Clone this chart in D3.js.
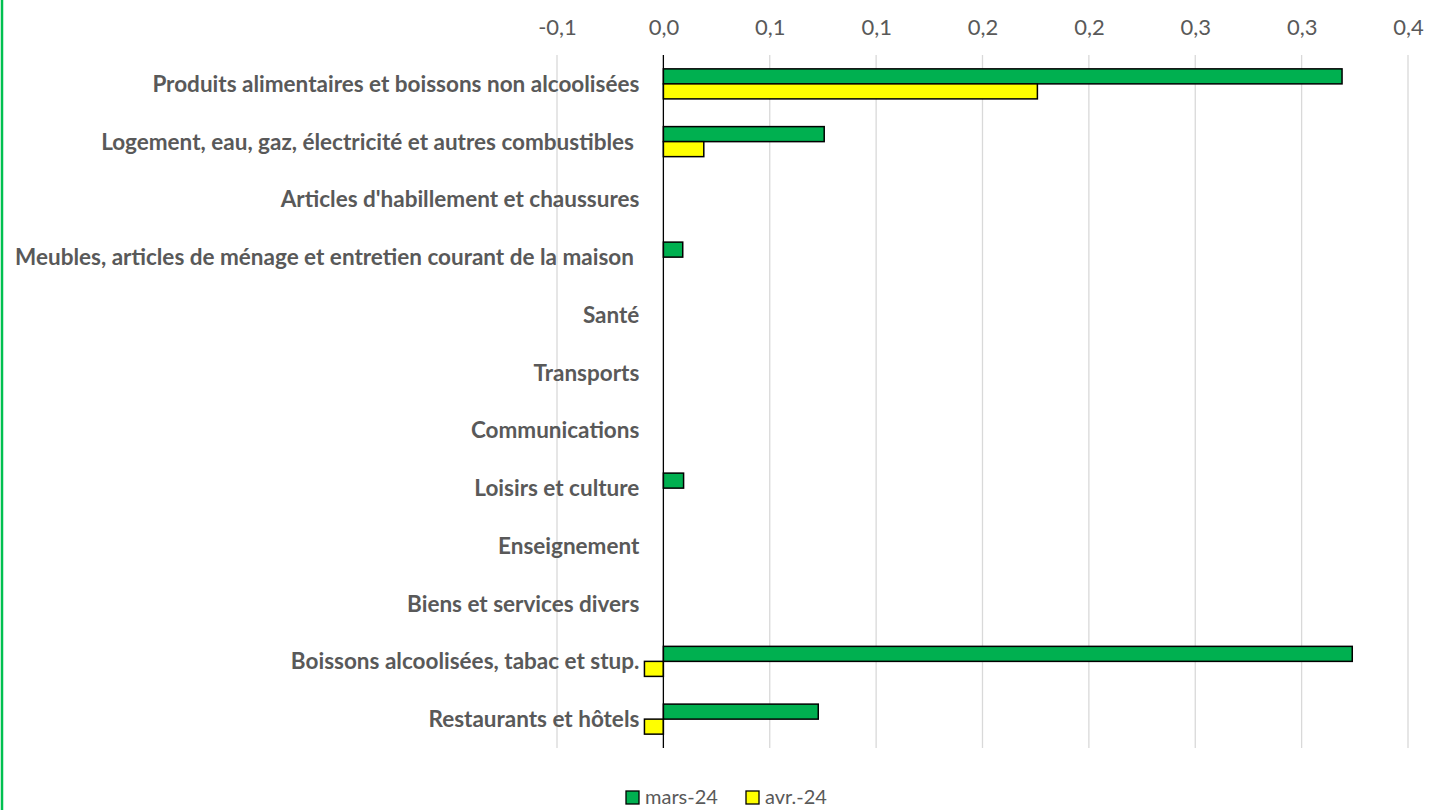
<!DOCTYPE html>
<html>
<head>
<meta charset="utf-8">
<script src="https://cdn.jsdelivr.net/npm/d3@7"></script>
<style>
  body { margin: 0; background: #fff; }
  svg { display: block; }
  svg text { font-family: Lato, "Open Sans", sans-serif; }
</style>
</head>
<body>
<div id="chart"></div>
<script>
// Data
var categories = [
  "Produits alimentaires et boissons non alcoolisées",
  "Logement, eau, gaz, électricité et autres combustibles ",
  "Articles d'habillement et chaussures",
  "Meubles, articles de ménage et entretien courant de la maison ",
  "Santé",
  "Transports",
  "Communications",
  "Loisirs et culture",
  "Enseignement",
  "Biens et services divers",
  "Boissons alcoolisées, tabac et stup.",
  "Restaurants et hôtels"
];
var seriesNames = ["mars-24", "avr.-24"];
var mars24 = [0.319, 0.0756, 0, 0.0091, 0, 0, 0, 0.0095, 0, 0, 0.3238, 0.0728];
var avr24  = [0.1758, 0.019, 0, 0, 0, 0, 0, 0, 0, 0, -0.0089, -0.0089];
var tickValues = [-0.05, 0, 0.05, 0.1, 0.15, 0.2, 0.25, 0.3, 0.35];
var tickLabels = ["-0,1", "0,0", "0,1", "0,1", "0,2", "0,2", "0,3", "0,3", "0,4"];
var colors = ["#00B050", "#FFFF00"];

var W = 1440, H = 810;
var margin = {top: 55, right: 32, bottom: 62, left: 557};

var svg = d3.select("#chart").append("svg")
    .attr("width", W)
    .attr("height", H);

// green frame edge on the left
svg.append("line")
    .attr("x1", 2).attr("x2", 2)
    .attr("y1", 0).attr("y2", H)
    .attr("stroke", "#00C050")
    .attr("stroke-width", 2.5);

var x = d3.scaleLinear()
    .domain([-0.05, 0.35])
    .range([margin.left, W - margin.right]);

var y = d3.scaleBand()
    .domain(categories)
    .range([margin.top, H - margin.bottom])
    .paddingInner(0.48)
    .paddingOuter(0.24);

var ySub = d3.scaleBand()
    .domain(seriesNames)
    .range([0, y.bandwidth()]);

// gridlines
svg.append("g")
    .selectAll("line")
    .data(tickValues.filter(function(d) { return d !== 0; }))
    .enter().append("line")
    .attr("x1", function(d) { return x(d); })
    .attr("x2", function(d) { return x(d); })
    .attr("y1", margin.top)
    .attr("y2", H - margin.bottom)
    .attr("stroke", "#d9d9d9")
    .attr("stroke-width", 1.3);

// top axis labels
var xAxis = svg.append("g")
    .attr("transform", "translate(0," + 35 + ")")
    .call(d3.axisTop(x)
      .tickValues(tickValues)
      .tickFormat(function(d, i) { return tickLabels[i]; })
      .tickSize(0)
      .tickPadding(0));
xAxis.select(".domain").remove();
xAxis.selectAll("text")
    .attr("fill", "#595959")
    .style("font-family", "Lato, 'Open Sans', sans-serif")
    .style("font-size", "22px");

var rows = categories.map(function(c, i) {
  return {cat: c, values: [mars24[i], avr24[i]]};
});

var groups = svg.append("g")
    .selectAll("g")
    .data(rows)
    .enter().append("g")
    .attr("transform", function(d) { return "translate(0," + y(d.cat) + ")"; });

groups.selectAll("rect")
    .data(function(d) {
      return d.values
        .map(function(v, j) { return {name: seriesNames[j], value: v, color: colors[j]}; })
        .filter(function(e) { return e.value !== 0; });
    })
    .enter().append("rect")
    .attr("x", function(d) { return x(Math.min(0, d.value)); })
    .attr("width", function(d) { return Math.abs(x(d.value) - x(0)); })
    .attr("y", function(d) { return ySub(d.name); })
    .attr("height", ySub.bandwidth())
    .attr("fill", function(d) { return d.color; })
    .attr("stroke", "#000")
    .attr("stroke-width", 1.5);

// zero axis line
svg.append("line")
    .attr("x1", x(0)).attr("x2", x(0))
    .attr("y1", margin.top).attr("y2", H - margin.bottom)
    .attr("stroke", "#000")
    .attr("stroke-width", 1.3);

// category labels
svg.append("g")
    .selectAll("text")
    .data(categories)
    .enter().append("text")
    .attr("x", x(0) - 24)
    .attr("y", function(d) { return y(d) + y.bandwidth() / 2; })
    .attr("dy", "0.35em")
    .attr("text-anchor", "end")
    .attr("fill", "#595959")
    .style("font-size", "22.5px")
    .style("font-weight", "bold")
    .style("white-space", "pre")
    .text(function(d) { return d; });

// legend
var legend = svg.append("g")
    .attr("transform", "translate(626,797)");
var legendX = [0, 120];
var li = legend.selectAll("g")
    .data(seriesNames)
    .enter().append("g")
    .attr("transform", function(d, i) { return "translate(" + legendX[i] + ",0)"; });
li.append("rect")
    .attr("x", 0).attr("y", -6)
    .attr("width", 13).attr("height", 13)
    .attr("fill", function(d, i) { return colors[i]; })
    .attr("stroke", "#000")
    .attr("stroke-width", 1.3);
li.append("text")
    .attr("x", 19)
    .attr("y", 0)
    .attr("dy", "0.35em")
    .attr("fill", "#595959")
    .style("font-size", "20px")
    .text(function(d) { return d; });
</script>
</body>
</html>
